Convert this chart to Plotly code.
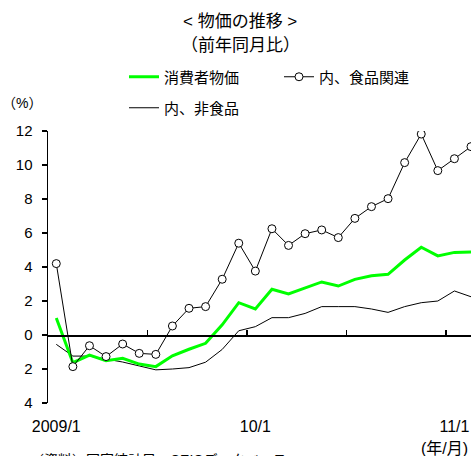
import plotly.graph_objects as go

months = ["2009/1","2009/2","2009/3","2009/4","2009/5","2009/6","2009/7","2009/8","2009/9","2009/10","2009/11","2009/12",
          "2010/1","2010/2","2010/3","2010/4","2010/5","2010/6","2010/7","2010/8","2010/9","2010/10","2010/11","2010/12",
          "2011/1","2011/2"]
cpi = [1.0,-1.63,-1.18,-1.51,-1.37,-1.71,-1.86,-1.22,-0.84,-0.49,0.6,1.9,
       1.53,2.69,2.41,2.75,3.12,2.88,3.27,3.49,3.57,4.41,5.16,4.65,4.86,4.88]
food = [4.2,-1.86,-0.63,-1.27,-0.53,-1.08,-1.14,0.53,1.57,1.67,3.28,5.4,
        3.76,6.25,5.27,5.96,6.18,5.73,6.86,7.55,8.02,10.14,11.82,9.67,10.37,11.08]
nonfood = [-0.55,-1.24,-1.24,-1.41,-1.59,-1.82,-2.05,-2.0,-1.92,-1.6,-0.85,0.25,
           0.49,1.02,1.02,1.27,1.67,1.67,1.67,1.53,1.33,1.67,1.9,2.0,2.59,2.25]

x_labels = ["2009/1", "10/1", "11/1"]
x_label_pos = [0, 12, 24]
x_tick_pos = [5.5, 11.5, 17.5, 23.5]
y_vals = [12, 10, 8, 6, 4, 2, 0, -2, -4]
y_text = ["12", "10", "8", "6", "4", "2", "0", "2", "4"]

FONT = "Liberation Sans, Arial, Noto Sans CJK JP"
xs = list(range(len(months)))

fig = go.Figure()
fig.add_trace(go.Scatter(x=xs, y=nonfood, mode="lines", name="内、非食品",
                         line=dict(color="black", width=1), legend="legend3"))
fig.add_trace(go.Scatter(x=xs, y=cpi, mode="lines", name="消費者物価",
                         line=dict(color="#00FF00", width=3), legend="legend"))
fig.add_trace(go.Scatter(x=xs, y=food, mode="lines+markers", name="内、食品関連",
                         line=dict(color="black", width=1),
                         marker=dict(symbol="circle", size=8, color="white",
                                     line=dict(color="black", width=1)),
                         legend="legend2"))
# dummy trace to carry the free x axis through zero
fig.add_trace(go.Scatter(x=[None], y=[None], xaxis="x2", showlegend=False))

W, H = 471, 456
L, R, T, B = 48, 0, 131, 53
pw, ph = W - L - R, H - T - B

def px_x(p):
    return (p - L) / pw

def px_y(p):
    return (H - B - p) / ph

zero_pos = (0 - (-4)) / 16.0

fig.update_layout(
    width=W, height=H,
    margin=dict(l=L, r=R, t=T, b=B, autoexpand=False),
    paper_bgcolor="white", plot_bgcolor="white",
    font=dict(family=FONT, size=14, color="black"),
    hovermode=False,
    xaxis=dict(range=[-0.5, 25.0], tickmode="array", tickvals=x_label_pos, ticktext=x_labels,
               showline=False, showgrid=False, zeroline=False, ticks="outside", ticklen=9,
               tickcolor="rgba(0,0,0,0)", tickfont=dict(size=16)),
    xaxis2=dict(range=[-0.5, 25.0], overlaying="x", anchor="free", position=zero_pos,
                side="bottom", showline=True, linecolor="black", linewidth=1.5,
                ticks="inside", ticklen=5, tickcolor="black", tickwidth=1.5,
                tickmode="array", tickvals=x_tick_pos, showticklabels=False,
                showgrid=False, zeroline=False),
    yaxis=dict(range=[-4, 12], tickmode="array", tickvals=y_vals, ticktext=y_text,
               showline=True, linecolor="black", linewidth=1.5, ticks="outside", ticklen=5,
               tickwidth=1.5, tickcolor="black", showgrid=False, zeroline=False,
               tickfont=dict(size=15), ticklabelstandoff=6),
    legend=dict(x=px_x(124), y=px_y(77), xanchor="left", yanchor="middle",
                orientation="h", font=dict(size=15), bgcolor="rgba(0,0,0,0)"),
    legend2=dict(x=px_x(279), y=px_y(77), xanchor="left", yanchor="middle",
                 orientation="h", font=dict(size=15), bgcolor="rgba(0,0,0,0)"),
    legend3=dict(x=px_x(124), y=px_y(108), xanchor="left", yanchor="middle",
                 orientation="h", font=dict(size=15), bgcolor="rgba(0,0,0,0)"),
    annotations=[
        dict(text="< 物価の推移 >", x=px_x(240), y=px_y(21), xref="paper", yref="paper",
             xanchor="center", yanchor="middle", showarrow=False, font=dict(size=17)),
        dict(text="（前年同月比）", x=px_x(240), y=px_y(45), xref="paper", yref="paper",
             xanchor="center", yanchor="middle", showarrow=False, font=dict(size=17)),
        dict(text="（%）", x=px_x(22), y=px_y(103), xref="paper", yref="paper",
             xanchor="center", yanchor="middle", showarrow=False, font=dict(size=14)),
        dict(text="(年/月)", x=px_x(419), y=px_y(448), xref="paper", yref="paper",
             xanchor="left", yanchor="middle", showarrow=False, font=dict(size=16)),
        dict(text="（資料）国家統計局、CEICデータベース", x=px_x(28), y=px_y(450), xref="paper",
             yref="paper", xanchor="left", yanchor="top", showarrow=False, font=dict(size=14)),
    ],
)

fig.write_html("out.html", config={"displayModeBar": False, "staticPlot": True},
               post_script="document.body.style.margin='0';document.body.style.overflow='hidden';")
